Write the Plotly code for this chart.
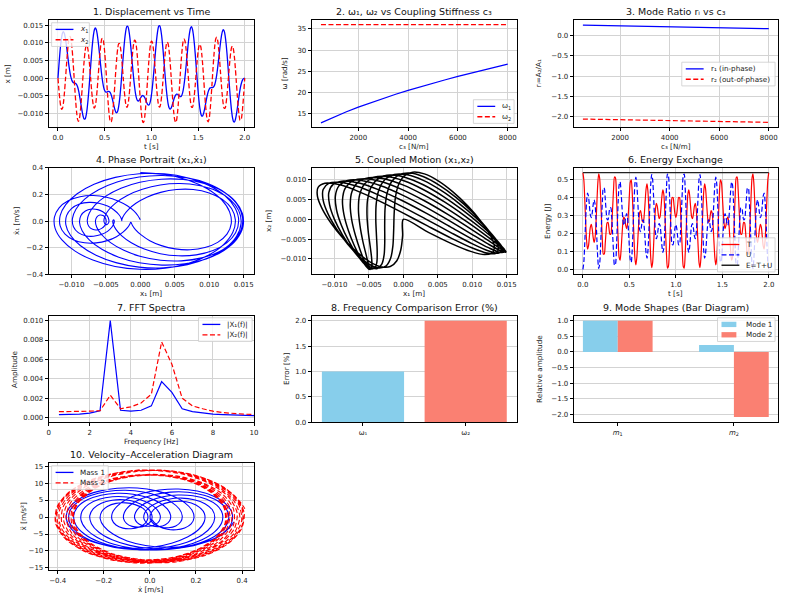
import numpy as np
import plotly.graph_objects as go

# ------------------------------------------------------------------ data
T_STEP = 0.01  # s, sampling of the time histories (t = 0 ... 2.0 s)

x1 = [0.0, 0.00364, 0.00699, 0.00978, 0.01181, 0.01295, 0.01319, 0.01257, 0.01122, 0.00937,
      0.00724, 0.00506, 0.00306, 0.00137, 0.00012, -0.00071, -0.00116, -0.00133, -0.00140, -0.00151,
      -0.00183, -0.00247, -0.00346, -0.00481, -0.00640, -0.00809, -0.00966, -0.01092, -0.01163, -0.01163,
      -0.01082, -0.00916, -0.00671, -0.00363, -0.00015, 0.00348, 0.00695, 0.00996, 0.01230, 0.01375,
      0.01427, 0.01382, 0.01253, 0.01055, 0.00811, 0.00548, 0.00290, 0.00058, -0.00131, -0.00269,
      -0.00354, -0.00393, -0.00399, -0.00389, -0.00379, -0.00383, -0.00414, -0.00476, -0.00568, -0.00679,
      -0.00796, -0.00900, -0.00970, -0.00985, -0.00934, -0.00807, -0.00605, -0.00337, -0.00019, 0.00325,
      0.00666, 0.00977, 0.01229, 0.01403, 0.01482, 0.01462, 0.01347, 0.01150, 0.00891, 0.00597,
      0.00294, 0.00008, -0.00239, -0.00432, -0.00563, -0.00634, -0.00651, -0.00629, -0.00587, -0.00539,
      -0.00505, -0.00495, -0.00514, -0.00560, -0.00624, -0.00692, -0.00748, -0.00770, -0.00743, -0.00655,
      -0.00500, -0.00281, -0.00007, 0.00302, 0.00622, 0.00926, 0.01186, 0.01378, 0.01482, 0.01489,
      0.01397, 0.01213, 0.00955, 0.00645, 0.00313, -0.00016, -0.00313, -0.00558, -0.00737, -0.00844,
      -0.00882, -0.00861, -0.00797, -0.00710, -0.00617, -0.00538, -0.00482, -0.00457, -0.00459, -0.00481,
      -0.00510, -0.00527, -0.00517, -0.00463, -0.00355, -0.00189, 0.00030, 0.00289, 0.00572, 0.00852,
      0.01106, 0.01305, 0.01428, 0.01462, 0.01396, 0.01235, 0.00991, 0.00683, 0.00337, -0.00019,
      -0.00354, -0.00643, -0.00867, -0.01014, -0.01080, -0.01070, -0.00999, -0.00883, -0.00743, -0.00602,
      -0.00475, -0.00377, -0.00312, -0.00278, -0.00269, -0.00270, -0.00265, -0.00237, -0.00173, -0.00064,
      0.00094, 0.00295, 0.00525, 0.00768, 0.00998, 0.01191, 0.01324, 0.01379, 0.01342, 0.01211,
      0.00993, 0.00701, 0.00358, -0.00007, -0.00366, -0.00689, -0.00952, -0.01137, -0.01236, -0.01246,
      -0.01178, -0.01047, -0.00874, -0.00681, -0.00491, -0.00323, -0.00189, -0.00094, -0.00037, -0.00010,
      0.0]

x2 = [0.0, -0.00330, -0.00613, -0.00810, -0.00891, -0.00843, -0.00669, -0.00391, -0.00041, 0.00333,
      0.00686, 0.00970, 0.01146, 0.01190, 0.01094, 0.00866, 0.00534, 0.00134, -0.00284, -0.00670,
      -0.00978, -0.01173, -0.01231, -0.01148, -0.00935, -0.00622, -0.00249, 0.00135, 0.00483, 0.00752,
      0.00908, 0.00934, 0.00832, 0.00616, 0.00321, -0.00014, -0.00341, -0.00614, -0.00794, -0.00856,
      -0.00790, -0.00601, -0.00314, 0.00033, 0.00396, 0.00727, 0.00981, 0.01122, 0.01129, 0.00998,
      0.00742, 0.00391, -0.00015, -0.00427, -0.00795, -0.01073, -0.01230, -0.01247, -0.01124, -0.00874,
      -0.00533, -0.00144, 0.00247, 0.00591, 0.00844, 0.00979, 0.00980, 0.00854, 0.00618, 0.00307,
      -0.00035, -0.00360, -0.00623, -0.00788, -0.00833, -0.00750, -0.00549, -0.00257, 0.00087, 0.00437,
      0.00746, 0.00971, 0.01080, 0.01054, 0.00892, 0.00614, 0.00250, -0.00156, -0.00557, -0.00900,
      -0.01145, -0.01262, -0.01237, -0.01072, -0.00789, -0.00423, -0.00019, 0.00373, 0.00707, 0.00941,
      0.01050, 0.01023, 0.00869, 0.00609, 0.00283, -0.00067, -0.00391, -0.00646, -0.00797, -0.00826,
      -0.00727, -0.00514, -0.00217, 0.00124, 0.00462, 0.00750, 0.00948, 0.01026, 0.00970, 0.00783,
      0.00488, 0.00117, -0.00285, -0.00667, -0.00981, -0.01190, -0.01265, -0.01198, -0.00995, -0.00680,
      -0.00293, 0.00119, 0.00508, 0.00826, 0.01036, 0.01115, 0.01056, 0.00871, 0.00587, 0.00242,
      -0.00115, -0.00438, -0.00684, -0.00821, -0.00832, -0.00717, -0.00493, -0.00191, 0.00147, 0.00473,
      0.00742, 0.00916, 0.00967, 0.00886, 0.00679, 0.00371, -0.00002, -0.00393, -0.00754, -0.01037,
      -0.01208, -0.01242, -0.01134, -0.00894, -0.00553, -0.00150, 0.00265, 0.00644, 0.00942, 0.01122,
      0.01166, 0.01072, 0.00855, 0.00545, 0.00183, -0.00182, -0.00503, -0.00738, -0.00859, -0.00853,
      -0.00720, -0.00482, -0.00174, 0.00162, 0.00478, 0.00730, 0.00882, 0.00910, 0.00806, 0.00584,
      0.00268, -0.00103, -0.00481, -0.00817, -0.01067, -0.01199, -0.01193, -0.01046, -0.00775, -0.00412,
      0.0]

# potential energy U(t) [J]
U_pot = [0.0, 0.0414, 0.1486, 0.2786, 0.3820, 0.4262, 0.4084, 0.3548, 0.3043, 0.2884,
         0.3138, 0.3595, 0.3883, 0.3678, 0.2886, 0.1723, 0.0626, 0.0061, 0.0298, 0.1280,
         0.2638, 0.3867, 0.4545, 0.4523, 0.3969, 0.3266, 0.2800, 0.2769, 0.3083, 0.3427,
         0.3441, 0.2923, 0.1961, 0.0912, 0.0241, 0.0292, 0.1126, 0.2467, 0.3828, 0.4721,
         0.4884, 0.4377, 0.3536, 0.2795, 0.2462, 0.2581, 0.2920, 0.3117, 0.2883, 0.2179,
         0.1250, 0.0525, 0.0403, 0.1049, 0.2298, 0.3715, 0.4786, 0.5147, 0.4740, 0.3831,
         0.2862, 0.2233, 0.2116, 0.2389, 0.2720, 0.2762, 0.2351, 0.1610, 0.0897, 0.0629,
         0.1063, 0.2155, 0.3551, 0.4745, 0.5296, 0.5034, 0.4127, 0.2991, 0.2089, 0.1715,
         0.1866, 0.2271, 0.2560, 0.2461, 0.1966, 0.1331, 0.0960, 0.1179, 0.2061, 0.3359,
         0.4608, 0.5324, 0.5233, 0.4394, 0.3164, 0.2034, 0.1398, 0.1380, 0.1800, 0.2289,
         0.2500, 0.2289, 0.1800, 0.1380, 0.1398, 0.2034, 0.3164, 0.4394, 0.5233, 0.5324,
         0.4608, 0.3359, 0.2061, 0.1179, 0.0960, 0.1331, 0.1966, 0.2461, 0.2560, 0.2271,
         0.1866, 0.1715, 0.2089, 0.2991, 0.4127, 0.5034, 0.5296, 0.4745, 0.3551, 0.2155,
         0.1063, 0.0629, 0.0897, 0.1610, 0.2351, 0.2762, 0.2720, 0.2389, 0.2116, 0.2233,
         0.2862, 0.3831, 0.4740, 0.5147, 0.4786, 0.3715, 0.2298, 0.1049, 0.0403, 0.0525,
         0.1250, 0.2179, 0.2883, 0.3117, 0.2920, 0.2581, 0.2462, 0.2795, 0.3536, 0.4377,
         0.4884, 0.4721, 0.3828, 0.2467, 0.1126, 0.0292, 0.0241, 0.0912, 0.1961, 0.2923,
         0.3441, 0.3427, 0.3083, 0.2769, 0.2800, 0.3266, 0.3969, 0.4523, 0.4545, 0.3867,
         0.2638, 0.1280, 0.0298, 0.0061, 0.0626, 0.1723, 0.2886, 0.3678, 0.3883, 0.3595,
         0.3138, 0.2884, 0.3043, 0.3548, 0.4084, 0.4262, 0.3820, 0.2786, 0.1486, 0.0414,
         0.0]
E_TOTAL = 0.54  # J

# coupling stiffness sweep
c3 = [500, 1000, 1500, 2000, 2500, 3000, 3500, 4000,
      4500, 5000, 5500, 6000, 6500, 7000, 7500, 8000]
omega1 = [12.90, 14.24, 15.47, 16.61, 17.67, 18.67, 19.63, 20.53,
          21.40, 22.24, 23.04, 23.82, 24.57, 25.30, 26.02, 26.71]
omega2 = [36.0, 36.0, 36.0, 36.0, 36.0, 36.0, 36.0, 36.0,
          36.0, 36.0, 36.0, 36.0, 36.0, 36.0, 36.0, 36.0]
r1 = [0.260, 0.255, 0.249, 0.243, 0.237, 0.231, 0.225, 0.219,
      0.213, 0.207, 0.201, 0.195, 0.189, 0.183, 0.177, 0.171]
r2 = [-2.056, -2.061, -2.067, -2.072, -2.078, -2.083, -2.088, -2.094,
      -2.099, -2.105, -2.110, -2.115, -2.121, -2.126, -2.132, -2.137]

# FFT spectra
freq = [0.5, 1.0, 1.5, 2.0, 2.5, 3.0, 3.5, 4.0, 4.5, 5.0,
        5.5, 6.0, 6.5, 7.0, 7.5, 8.0, 8.5, 9.0, 9.5, 10.0]
X1_amp = [0.00030, 0.00030, 0.00035, 0.00045, 0.00070, 0.01000, 0.00075, 0.00065, 0.00075, 0.00120,
          0.00370, 0.00260, 0.00090, 0.00060, 0.00045, 0.00035, 0.00030, 0.00025, 0.00020, 0.00020]
X2_amp = [0.00060, 0.00060, 0.00062, 0.00065, 0.00070, 0.00230, 0.00090, 0.00110, 0.00150, 0.00240,
          0.00780, 0.00550, 0.00200, 0.00120, 0.00090, 0.00065, 0.00050, 0.00040, 0.00035, 0.00030]

# frequency comparison error
err_labels = ["ω₁", "ω₂"]
err_values = [1.0, 2.0]

# mode shapes
mass_labels = ["<i>m</i><sub>1</sub>", "<i>m</i><sub>2</sub>"]
mode1_shape = [1.0, 0.22]
mode2_shape = [1.0, -2.08]

# ------------------------------------------------------------------ derived quantities
t = np.arange(len(x1)) * T_STEP
x1a = np.array(x1)
x2a = np.array(x2)
v1 = np.gradient(x1a, t)
v2 = np.gradient(x2a, t)
acc1 = np.gradient(v1, t)
acc2 = np.gradient(v2, t)
U_arr = np.array(U_pot)
T_kin = E_TOTAL - U_arr
E_line = np.full(len(t), E_TOTAL)

# ------------------------------------------------------------------ layout helpers
W, H = 789, 600
FONT = "DejaVu Sans"
BLUE, RED, BLACK = "#0000ff", "#ff0000", "#000000"
SKY, SALMON = "#87CEEB", "#FA8072"
DASH = "5px,2.5px"
TXT = "#1a1a1a"

COLS = [(47, 254), (312, 519), (576, 782)]
ROWS = [(16, 125), (166, 274), (316, 424), (465, 574)]
POS = {1: (0, 0), 2: (0, 1), 3: (0, 2), 4: (1, 0), 5: (1, 1), 6: (1, 2),
       7: (2, 0), 8: (2, 1), 9: (2, 2), 10: (3, 0)}


def sfx(i):
    return "" if i == 1 else str(i)


def px(xp):
    return xp / W


def py(yp):
    return 1 - yp / H


def xdom(i):
    c = COLS[POS[i][1]]
    return [px(c[0]), px(c[1])]


def ydom(i):
    r = ROWS[POS[i][0]]
    return [py(r[1]), py(r[0])]


base_axis = dict(showline=True, mirror=True, linecolor="black", linewidth=0.8,
                 ticks="outside", ticklen=3, tickwidth=0.8, tickcolor="black",
                 showgrid=True, gridcolor="#d3d3d3", gridwidth=0.8, zeroline=False,
                 tickfont=dict(family=FONT, size=7, color=TXT))

AX = {
    1: (dict(range=[-0.1, 2.1], tick0=0, dtick=0.5, tickformat=".1f"),
        dict(range=[-0.0140, 0.0166], tick0=0, dtick=0.005, tickformat=".3f")),
    2: (dict(range=[125, 8375], tick0=0, dtick=2000, tickformat="d"),
        dict(range=[11.85, 37.15], tick0=0, dtick=5, tickformat="d")),
    3: (dict(range=[125, 8375], tick0=0, dtick=2000, tickformat="d"),
        dict(range=[-2.26, 0.39], tick0=0, dtick=0.5, tickformat=".1f")),
    4: (dict(range=[-0.0133, 0.0165], tick0=0, dtick=0.005, tickformat=".3f"),
        dict(range=[-0.40, 0.40], tick0=0, dtick=0.2, tickformat=".1f")),
    5: (dict(range=[-0.0133, 0.0165], tick0=0, dtick=0.005, tickformat=".3f"),
        dict(range=[-0.0139, 0.0130], tick0=0, dtick=0.005, tickformat=".3f")),
    6: (dict(range=[-0.1, 2.1], tick0=0, dtick=0.5, tickformat=".1f"),
        dict(range=[-0.027, 0.567], tick0=0, dtick=0.1, tickformat=".1f")),
    7: (dict(range=[0, 10], tick0=0, dtick=2, tickformat="d"),
        dict(range=[-0.0005, 0.0105], tick0=0, dtick=0.002, tickformat=".3f")),
    8: (dict(range=[-0.5, 1.5], tickvals=[0, 1], ticktext=err_labels, showgrid=False),
        dict(range=[0, 2.1], tick0=0, dtick=0.5, tickformat=".1f")),
    9: (dict(range=[-0.38, 1.38], tickvals=[0, 1], ticktext=mass_labels, showgrid=False),
        dict(range=[-2.255, 1.155], tick0=0, dtick=0.5, tickformat=".1f")),
    10: (dict(range=[-0.439, 0.452], tick0=0, dtick=0.2, tickformat=".1f"),
         dict(range=[-15.7, 15.96], tick0=0, dtick=5, tickformat="d")),
}

layout = dict(width=W, height=H, margin=dict(l=0, r=0, t=0, b=0),
              paper_bgcolor="white", plot_bgcolor="white",
              font=dict(family=FONT, size=8, color=TXT),
              barmode="overlay", showlegend=False)

for i, (xs, ys) in AX.items():
    layout["xaxis" + sfx(i)] = {**base_axis, **xs, "domain": xdom(i), "anchor": "y" + sfx(i)}
    layout["yaxis" + sfx(i)] = {**base_axis, **ys, "domain": ydom(i), "anchor": "x" + sfx(i)}

# titles and axis labels as annotations
TITLES = {1: "1. Displacement vs Time", 2: "2. ω₁, ω₂ vs Coupling Stiffness c₃",
          3: "3. Mode Ratio rᵢ vs c₃", 4: "4. Phase Portrait (x₁,ẋ₁)",
          5: "5. Coupled Motion (x₁,x₂)", 6: "6. Energy Exchange", 7: "7. FFT Spectra",
          8: "8. Frequency Comparison Error (%)", 9: "9. Mode Shapes (Bar Diagram)",
          10: "10. Velocity–Acceleration Diagram"}
XLABELS = {1: "t [s]", 2: "c₃ [N/m]", 3: "c₃ [N/m]", 4: "x₁ [m]", 5: "x₁ [m]",
           6: "t [s]", 7: "Frequency [Hz]", 10: "ẋ [m/s]"}
YLABELS = {1: "x [m]", 2: "ω [rad/s]", 3: "rᵢ=A₂/A₁", 4: "ẋ₁ [m/s]", 5: "x₂ [m]",
           6: "Energy [J]", 7: "Amplitude", 8: "Error [%]", 9: "Relative amplitude",
           10: "ẍ [m/s²]"}
YLAB_X = {1: 6, 2: 285, 3: 541, 4: 14, 5: 268, 6: 549, 7: 12, 8: 286, 9: 541, 10: 22}

ann = []
shapes = []
for i in TITLES:
    (x0, x1p) = COLS[POS[i][1]]
    (y0, y1p) = ROWS[POS[i][0]]
    ann.append(dict(text=TITLES[i], x=px((x0 + x1p) / 2), y=py(y0 - 8),
                    xref="paper", yref="paper", showarrow=False, xanchor="center", yanchor="middle",
                    font=dict(family=FONT, size=9.5, color="#111")))
    if i in XLABELS:
        ann.append(dict(text=XLABELS[i], x=px((x0 + x1p) / 2), y=py(y1p + 19),
                        xref="paper", yref="paper", showarrow=False, xanchor="center",
                        yanchor="middle", font=dict(family=FONT, size=7.2, color=TXT)))
    ann.append(dict(text=YLABELS[i], x=px(YLAB_X[i]), y=py((y0 + y1p) / 2), textangle=-90,
                    xref="paper", yref="paper", showarrow=False, xanchor="center", yanchor="middle",
                    font=dict(family=FONT, size=7.2, color=TXT)))


def add_legend(left, top, width, entries, row_h=10.5):
    """Matplotlib-like legend box: entries are (label, color, dash, kind)."""
    n = len(entries)
    height = row_h * n + 3
    shapes.append(dict(type="rect", xref="paper", yref="paper", layer="above",
                       x0=px(left), x1=px(left + width), y0=py(top + height), y1=py(top),
                       line=dict(color="#cccccc", width=0.8), fillcolor="rgba(255,255,255,0.8)"))
    for k, (label, color, dash, kind) in enumerate(entries):
        yc = top + 1.5 + row_h * (k + 0.5)
        if kind == "line":
            shapes.append(dict(type="line", xref="paper", yref="paper", layer="above",
                               x0=px(left + 4), x1=px(left + 22), y0=py(yc), y1=py(yc),
                               line=dict(color=color, width=1.3, dash=dash)))
        else:
            shapes.append(dict(type="rect", xref="paper", yref="paper", layer="above",
                               x0=px(left + 4), x1=px(left + 19), y0=py(yc + 2.7), y1=py(yc - 2.7),
                               fillcolor=color, line=dict(width=0)))
        ann.append(dict(text=label, x=px(left + 27), y=py(yc), xref="paper", yref="paper",
                        showarrow=False, xanchor="left", yanchor="middle",
                        font=dict(family=FONT, size=7.2, color=TXT)))


add_legend(50, 19, 38, [("<i>x</i><sub>1</sub>", BLUE, "solid", "line"),
                        ("<i>x</i><sub>2</sub>", RED, DASH, "line")])
add_legend(475, 97, 41, [("ω<sub>1</sub>", BLUE, "solid", "line"),
                         ("ω<sub>2</sub>", RED, DASH, "line")])
add_legend(685, 59, 94, [("r₁ (in-phase)", BLUE, "solid", "line"),
                         ("r₂ (out-of-phase)", RED, DASH, "line")])
add_legend(721, 237, 58, [("T", RED, "solid", "line"),
                          ("U", BLUE, DASH, "line"),
                          ("E=T+U", BLACK, "solid", "line")])
add_legend(198, 318, 54, [("|X₁(f)|", BLUE, "solid", "line"),
                          ("|X₂(f)|", RED, DASH, "line")])
add_legend(721, 318, 58, [("Mode 1", SKY, None, "patch"),
                          ("Mode 2", SALMON, None, "patch")])
add_legend(50, 468, 57, [("Mass 1", BLUE, "solid", "line"),
                         ("Mass 2", RED, DASH, "line")])

layout["annotations"] = ann
layout["shapes"] = shapes

# ------------------------------------------------------------------ traces
fig = go.Figure(layout=layout)


def line(x, y, i, color, name, dash=None, width=1.2, shape="spline"):
    fig.add_trace(go.Scatter(
        x=x, y=y, mode="lines", name=name, showlegend=False,
        xaxis="x" + sfx(i), yaxis="y" + sfx(i),
        line=dict(color=color, width=width, dash=dash, shape=shape, smoothing=0.8),
        hoverinfo="skip"))


# 1 displacement
line(t, x1a, 1, BLUE, "x1", width=1.3)
line(t, x2a, 1, RED, "x2", dash=DASH, width=1.3)
# 2 natural frequencies
line(c3, omega1, 2, BLUE, "omega1", shape="linear")
line(c3, omega2, 2, RED, "omega2", dash=DASH, shape="linear")
# 3 mode ratios
line(c3, r1, 3, BLUE, "r1", shape="linear")
line(c3, r2, 3, RED, "r2", dash=DASH, shape="linear")
# 4 phase portrait
line(x1a, v1, 4, BLUE, "phase", width=1.1)
# 5 coupled motion
line(x1a, x2a, 5, BLACK, "coupled", width=1.5)
# 6 energies
line(t, T_kin, 6, RED, "T")
line(t, U_arr, 6, BLUE, "U", dash=DASH)
line(t, E_line, 6, "#222222", "E", shape="linear", width=1.3)
# 7 FFT
line(freq, X1_amp, 7, BLUE, "X1", shape="linear")
line(freq, X2_amp, 7, RED, "X2", dash=DASH, shape="linear")
# 8 error bars
fig.add_trace(go.Bar(x=[0, 1], y=err_values, width=0.8,
                     marker=dict(color=[SKY, SALMON], line=dict(width=0)),
                     showlegend=False, xaxis="x8", yaxis="y8", hoverinfo="skip"))
# 9 mode shapes
fig.add_trace(go.Bar(x=[0, 1], y=mode1_shape, width=0.3, offset=-0.3, name="Mode 1",
                     marker=dict(color=SKY, line=dict(width=0)), showlegend=False,
                     xaxis="x9", yaxis="y9", hoverinfo="skip"))
fig.add_trace(go.Bar(x=[0, 1], y=mode2_shape, width=0.3, offset=0.0, name="Mode 2",
                     marker=dict(color=SALMON, line=dict(width=0)), showlegend=False,
                     xaxis="x9", yaxis="y9", hoverinfo="skip"))
# 10 velocity-acceleration
line(v1, acc1, 10, BLUE, "Mass 1", width=1.1)
line(v2, acc2, 10, RED, "Mass 2", dash=DASH, width=1.1)

fig.write_html("out.html")
